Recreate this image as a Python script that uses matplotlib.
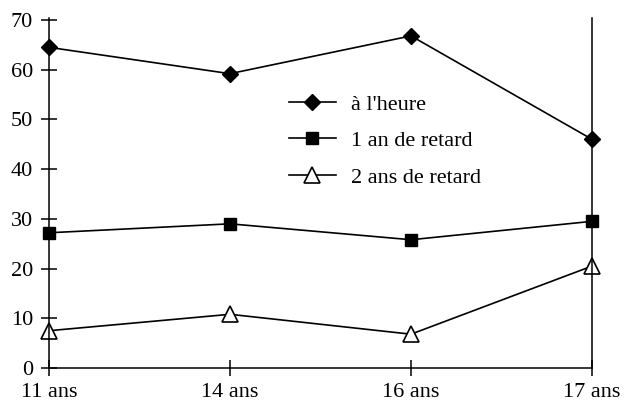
import matplotlib.pyplot as plt

ages = ["11 ans", "14 ans", "16 ans", "17 ans"]
a_l_heure = [64.5, 59.2, 66.8, 46.0]
un_an = [27.2, 29.0, 25.8, 29.5]
deux_ans = [7.5, 10.8, 6.8, 20.5]
yticks = [0, 10, 20, 30, 40, 50, 60, 70]

plt.rcParams['font.family'] = ['Liberation Serif', 'DejaVu Serif']

fig = plt.figure(figsize=(6.26, 4.13), dpi=100)
ax = fig.add_axes([49/626, 1 - 368/413, (592 - 49)/626, (368 - 18)/413])

x = range(len(ages))
kw = dict(color='black', lw=1.2, clip_on=False)
ax.plot(x, a_l_heure, marker='D', ms=8, mfc='black', label="à l'heure", **kw)
ax.plot(x, un_an, marker='s', ms=8, mfc='black', label="1 an de retard", **kw)
ax.plot(x, deux_ans, marker='^', ms=11, mfc='white', mew=1.2, label="2 ans de retard", **kw)

ax.set_xlim(0, 3)
ax.set_ylim(0, 70.4)
ax.set_xticks(list(x))
ax.set_xticklabels(ages, fontsize=16)
ax.set_yticks(yticks)
ax.set_yticklabels([str(v) for v in yticks], fontsize=16)
ax.tick_params(axis='both', direction='inout', length=11, width=1.1)
ax.tick_params(axis='y', pad=6)
ax.tick_params(axis='x', pad=5)

ax.spines['top'].set_visible(False)
for s in ['left', 'right', 'bottom']:
    ax.spines[s].set_linewidth(1.1)

leg = ax.legend(loc='upper left', bbox_to_anchor=(269/626, 1 - 74/413),
                bbox_transform=fig.transFigure, frameon=False, fontsize=16,
                handlelength=2.1, handletextpad=0.7, labelspacing=0.72)

fig.savefig('out.png', dpi=100)
